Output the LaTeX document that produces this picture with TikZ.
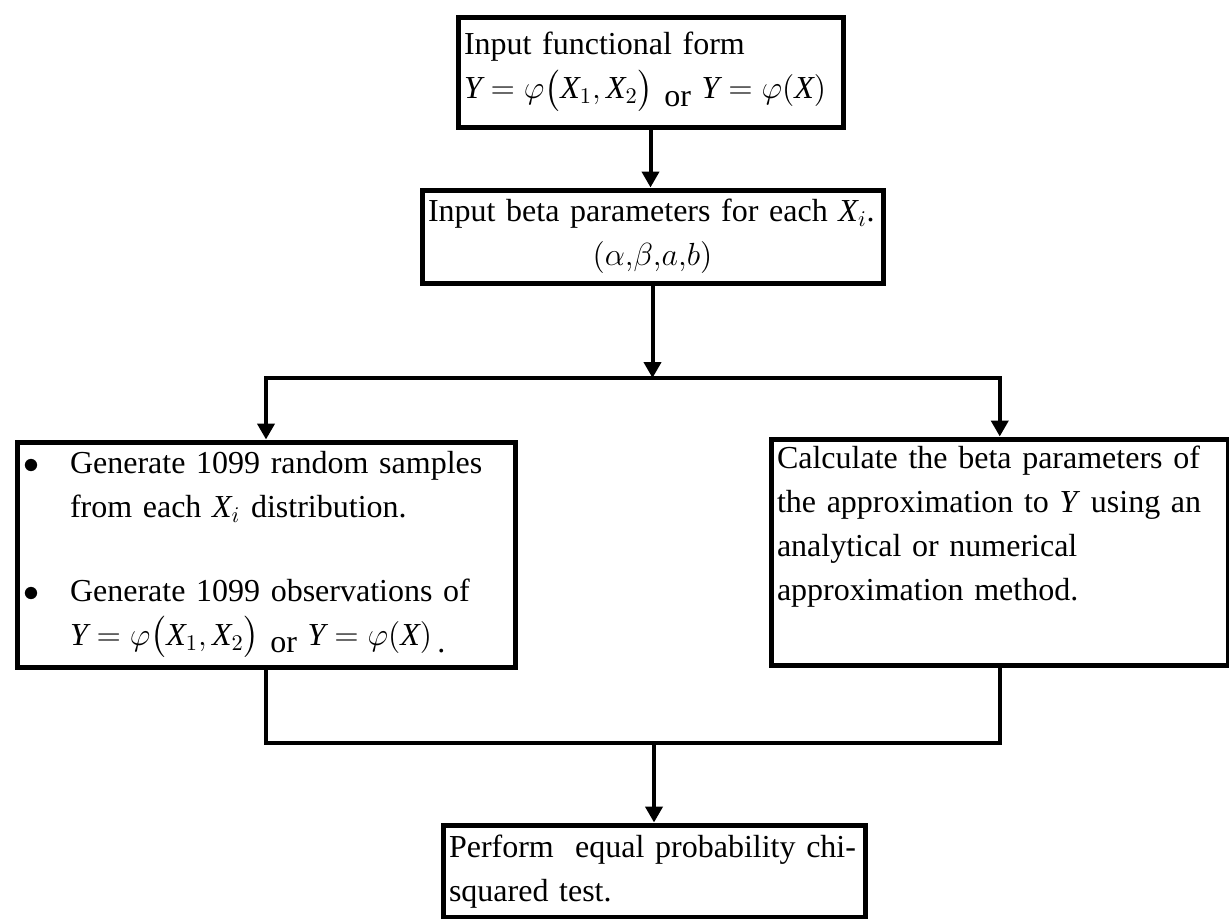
\documentclass[tikz,border=0pt]{standalone}
\usepackage{fix-cm}
\usepackage{amsmath}
\usepackage{fontspec}
\setmainfont{Liberation Serif}
\usetikzlibrary{arrows.meta}

\tikzset{
  box/.style={draw, line width=2.5pt, rectangle, anchor=north west, inner sep=3pt,
              align=left, font=\fontsize{16}{22}\selectfont},
  arr/.style={line width=2pt, -{Triangle[length=8pt,width=8.5pt]}},
  conn/.style={line width=2pt},
}

\newcommand{\vY}{\textit{Y}}
\newcommand{\vX}{\textit{X}}

\begin{document}
\begin{tikzpicture}[x=0.5pt,y=-0.5pt]
                \useasboundingbox (0,0) rectangle (1229,918);

                \node[box, minimum width=192.5pt, minimum height=55pt, text width=186.5pt] (input) at (455.5,14.5)
                  {Input functional form\\
                   $\vY=\varphi\bigl(\vX_1, \vX_2\bigr)$ \raisebox{-0.5ex}{or} $\vY=\varphi(\vX)$};
                \node[box, minimum width=230.5pt, minimum height=46.5pt, text width=224.5pt] (beta) at (419.5,187.5)
                  {Input beta parameters for each $\vX_i$.\\
                   \makebox[224.5pt]{$(\alpha{,}\beta{,}a{,}b)$}};
                \node[box, minimum width=249pt, minimum height=112.5pt, text width=243pt] (gen) at (14.5,439.5)
                  {\makebox[23.5pt][l]{$\bullet$}Generate 1099 random samples\\
                   \hspace*{23.5pt}from each $\vX_i$ distribution.\\[20pt]
                   \makebox[23.5pt][l]{$\bullet$}Generate 1099 observations of\\
                   \hspace*{23.5pt}$\vY=\varphi\bigl(\vX_1, \vX_2\bigr)$ \raisebox{-0.5ex}{or} $\vY=\varphi(\vX)$\,\raisebox{-0.5ex}{.}};
                \node[box, minimum width=228.75pt, minimum height=113pt, text width=222.75pt] (calc) at (768.5,436.5)
                  {Calculate the beta parameters of\\
                   the approximation to \vY{} using an\\
                   analytical or numerical\\
                   approximation method.\\[7pt]\mbox{}};
                \node[box, minimum width=211pt, minimum height=46.25pt, text width=205pt] (test) at (440.5,822.5)
                  {Perform\ \ equal probability chi-\\
                   squared test.};

                \coordinate (split) at (beta.south |- 0,378);
                \coordinate (join) at (test.north |- 0,743);

                \draw[arr] (input.south) -- (input.south |- beta.north);
                \draw[arr] (beta.south) -- (split);
                \draw[arr] (split) -| (gen.north);
                \draw[arr] (split) -| (calc.north);

                \draw[conn] (gen.south) |- (join);
                \draw[conn] (calc.south) |- (join);
                \draw[arr] (join) -- (test.north);

\end{tikzpicture}
\end{document}
